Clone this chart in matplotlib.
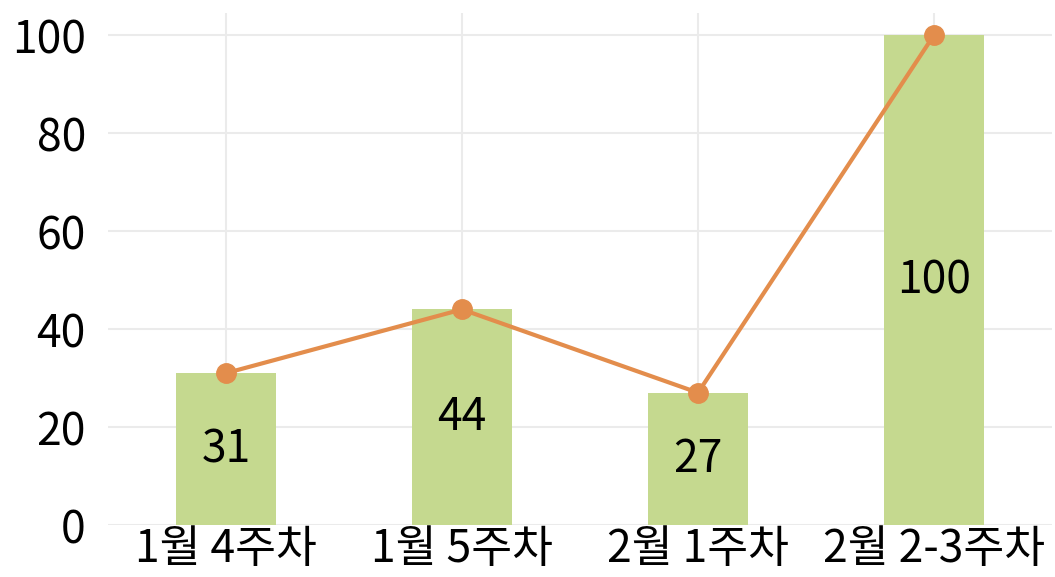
import matplotlib
matplotlib.use("Agg")
import matplotlib.pyplot as plt
import numpy as np

plt.rcParams['font.family'] = ['Noto Sans CJK KR', 'DejaVu Sans']

# data
weeks = ['1월 4주차', '1월 5주차', '2월 1주차', '2월 2-3주차']
bar_values = [31, 44, 27, 100]
line_values = [31, 44, 27, 100]

bar_color = '#c5d98f'
line_color = '#e38d4c'
grid_color = '#ebebeb'

fig = plt.figure(figsize=(10.55, 5.77), dpi=100)
ax = fig.add_axes([108 / 1055, 1 - 525 / 577, (1052 - 108) / 1055, (525 - 13) / 577])

x = np.arange(len(weeks))
ax.bar(x, bar_values, width=0.42, color=bar_color, zorder=2)
ax.plot(x, line_values, color=line_color, linewidth=3, marker='o',
        markersize=14, zorder=3)

for xi, v in zip(x, bar_values):
    ax.text(xi, v / 2, str(v), ha='center', va='center', fontsize=32, zorder=4)

ax.set_xlim(-0.5, len(weeks) - 0.5)
ax.set_ylim(0, 104.5)
ax.set_yticks([0, 20, 40, 60, 80, 100])
ax.set_xticks(x)
ax.set_xticklabels(weeks)
ax.tick_params(axis='both', length=0, labelsize=32)
ax.tick_params(axis='y', pad=16)
ax.tick_params(axis='x', pad=1)

ax.grid(True, color=grid_color, linewidth=1.5, zorder=0)
ax.set_axisbelow(True)
for s in ax.spines.values():
    s.set_visible(False)

fig.savefig('out.png', dpi=100)
